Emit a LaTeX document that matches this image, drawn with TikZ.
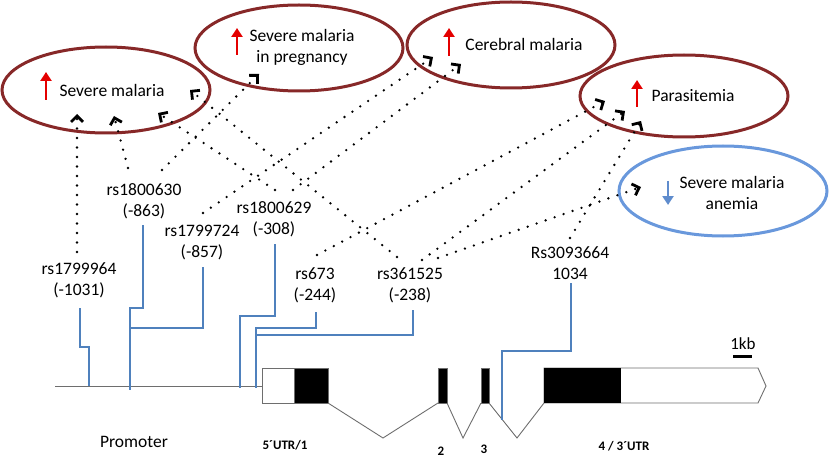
\documentclass[tikz,border=0pt]{standalone}
\usepackage{fontspec}
\setmainfont{Carlito}
\usetikzlibrary{shapes.geometric,arrows.meta,calc}
\definecolor{ebrown}{RGB}{135,40,40}
\definecolor{eblue}{RGB}{105,152,220}
\definecolor{snpblue}{RGB}{79,129,189}
\definecolor{upred}{RGB}{228,0,0}
\definecolor{downblue}{RGB}{95,140,205}
\definecolor{genegray}{RGB}{110,110,110}
\begin{document}
\begin{tikzpicture}[x=1pt,y=-1pt,
  oval/.style={ellipse, draw=ebrown, line width=3pt, minimum width=208pt, minimum height=86pt, inner sep=0pt},
  ovalblue/.style={oval, draw=eblue},
  txt/.style={font=\fontsize{17.5}{21}\selectfont, align=center, inner sep=0pt},
  bold/.style={font=\fontsize{13}{15}\selectfont\bfseries, inner sep=0pt},
  dotlink/.style={line width=2.6pt, line cap=round, dash pattern=on 0pt off 9.5pt,
     -{Straight Barb[length=6pt,width=12pt,line width=2.8pt]}},
  snp/.style={snpblue, line width=2.4pt},
  uparrow/.style={upred, line width=2.6pt, -{Triangle[length=9pt,width=11pt]}},
  downarrow/.style={downblue, line width=2.6pt, -{Triangle[length=9pt,width=11pt]}},
  intron/.style={genegray, line width=0.9pt},
  exon/.style={draw=genegray, line width=0.9pt}
]
\useasboundingbox (0,0) rectangle (829,457);

% ellipses
\node[oval] (sm) at (106,90) {};
\node[oval] (smp) at (299,48) {};
\node[oval] (cm) at (511,45) {};
\node[oval, minimum height=82pt] (par) at (684,96) {};
\node[ovalblue, minimum height=90pt] (sma) at (723,191) {};

% ellipse texts
\node[txt] (tsm) at (112,90) {Severe malaria};
\node[txt] (tsmp) at (302,47) {Severe malaria\\in pregnancy};
\node[txt] (tcm) at (524,44) {Cerebral malaria};
\node[txt] (tpar) at (693,96) {Parasitemia};
\node[txt] (tsma) at (732,193) {Severe malaria\\anemia};

% red / blue arrows
\draw[uparrow] (46,100) -- (46,72);
\draw[uparrow] (237,55) -- (237,28);
\draw[uparrow] (449,56) -- (449,28);
\draw[uparrow] (637,107) -- (637,80);
\draw[downarrow] (668,181) -- (668,205);

% SNP labels
\node[txt] (l964) at (79,280) {rs1799964\\(-1031)};
\node[txt] (l630) at (144,201) {rs1800630\\(-863)};
\node[txt] (l724) at (202,243) {rs1799724\\(-857)};
\node[txt] (l629) at (274,219) {rs1800629\\(-308)};
\node[txt] (l673) at (315,285) {rs673\\(-244)};
\node[txt] (l525) at (410,285) {rs361525\\(-238)};
\node[txt] (l664) at (570,263) {Rs3093664\\1034};

% tip coordinates
\coordinate (t1) at ($(sm)+(-29,24)$);
\coordinate (t2) at ($(sm)+(8,26)$);
\coordinate (t5) at ($(sm)+(52,23)$);
\coordinate (t7) at ($(sm)+(84,0)$);
\coordinate (t3) at ($(smp)+(-40,26)$);
\coordinate (t4) at ($(cm)+(-78,12)$);
\coordinate (t6) at ($(cm)+(-50,19)$);
\coordinate (t8) at ($(par)+(-79,5)$);
\coordinate (t9) at ($(par)+(-59,15)$);
\coordinate (t11) at ($(par)+(-43,25)$);
\coordinate (t10) at ($(sma)+(-82,-4)$);

% dotted connectors
\draw[dotlink] ($(l964)+(-2,-28)$) -- (t1);
\draw[dotlink] ($(l630)+(-16,-33)$) -- (t2);
\draw[dotlink] ($(l630)+(18,-31)$) -- (t3);
\draw[dotlink] ($(l724)+(1,-30)$) -- (t4);
\draw[dotlink] ($(l629)+(1,-29)$) -- (t5);
\draw[dotlink] ($(l629)+(19,-29)$) -- (t6);
\draw[dotlink] ($(l525)+(-13,-28)$) -- (t7);
\draw[dotlink] ($(l673)+(2,-30)$) -- (t8);
\draw[dotlink] ($(l525)+(12,-25)$) -- (t9);
\draw[dotlink] ($(l525)+(28,-27)$) -- (t10);
\draw[dotlink] ($(l664)+(0,-25)$) -- (t11);

% gene structure
\draw[intron] (55,386) -- (262,386);
\draw[exon, fill=white] (262,368) rectangle (294,403);
\draw[exon, fill=black] (294,368) rectangle (328,403);
\draw[intron] (328,403) -- (383,438) -- (438,403);
\draw[exon, fill=black] (438,368) rectangle (447,403);
\draw[intron] (447,403) -- (463,438) -- (481,403);
\draw[exon, fill=black] (481,368) rectangle (489,403);
\draw[intron] (489,403) -- (517,438) -- (544,403);
\draw[exon, fill=white] (544,368) -- (758,368) -- (766,386) -- (758,403) -- (544,403) -- cycle;
\fill[black] (544,368) rectangle (621,403);

% SNP position lines
\draw[snp] ($(l964)+(1,28)$) -- (80,347) -- (89,347) -- (89,386);
\draw[snp] ($(l630)+(-1,24)$) -- (143,308) -- (130,308) -- (130,390);
\draw[snp] ($(l724)+(1,24)$) -- (203,328) -- (131,328);
\draw[snp] ($(l629)+(1,25)$) -- (275,316) -- (240,316) -- (240,388);
\draw[snp] ($(l673)+(1,27)$) -- (316,328) -- (256,328) -- (256,388);
\draw[snp] ($(l525)+(3,25)$) -- (413,335) -- (257,335);
\draw[snp] ($(l664)+(1,20)$) -- (571,351) -- (502,351) -- (502,420);

% bottom labels
\node[txt] (prom) at (134,442) {Promoter};
\node[bold] (e1) at (285,445) {5´UTR/1};
\node[bold] (e2) at (441,451) {2};
\node[bold] (e3) at (484,449) {3};
\node[bold] (e4) at (624,446) {4 / 3´UTR};

% scale bar
\node[txt, font=\fontsize{17}{20}\selectfont] (kb) at (743,344) {1kb};
\draw[line width=3pt] (733,356) -- (752,356);
\end{tikzpicture}
\end{document}
